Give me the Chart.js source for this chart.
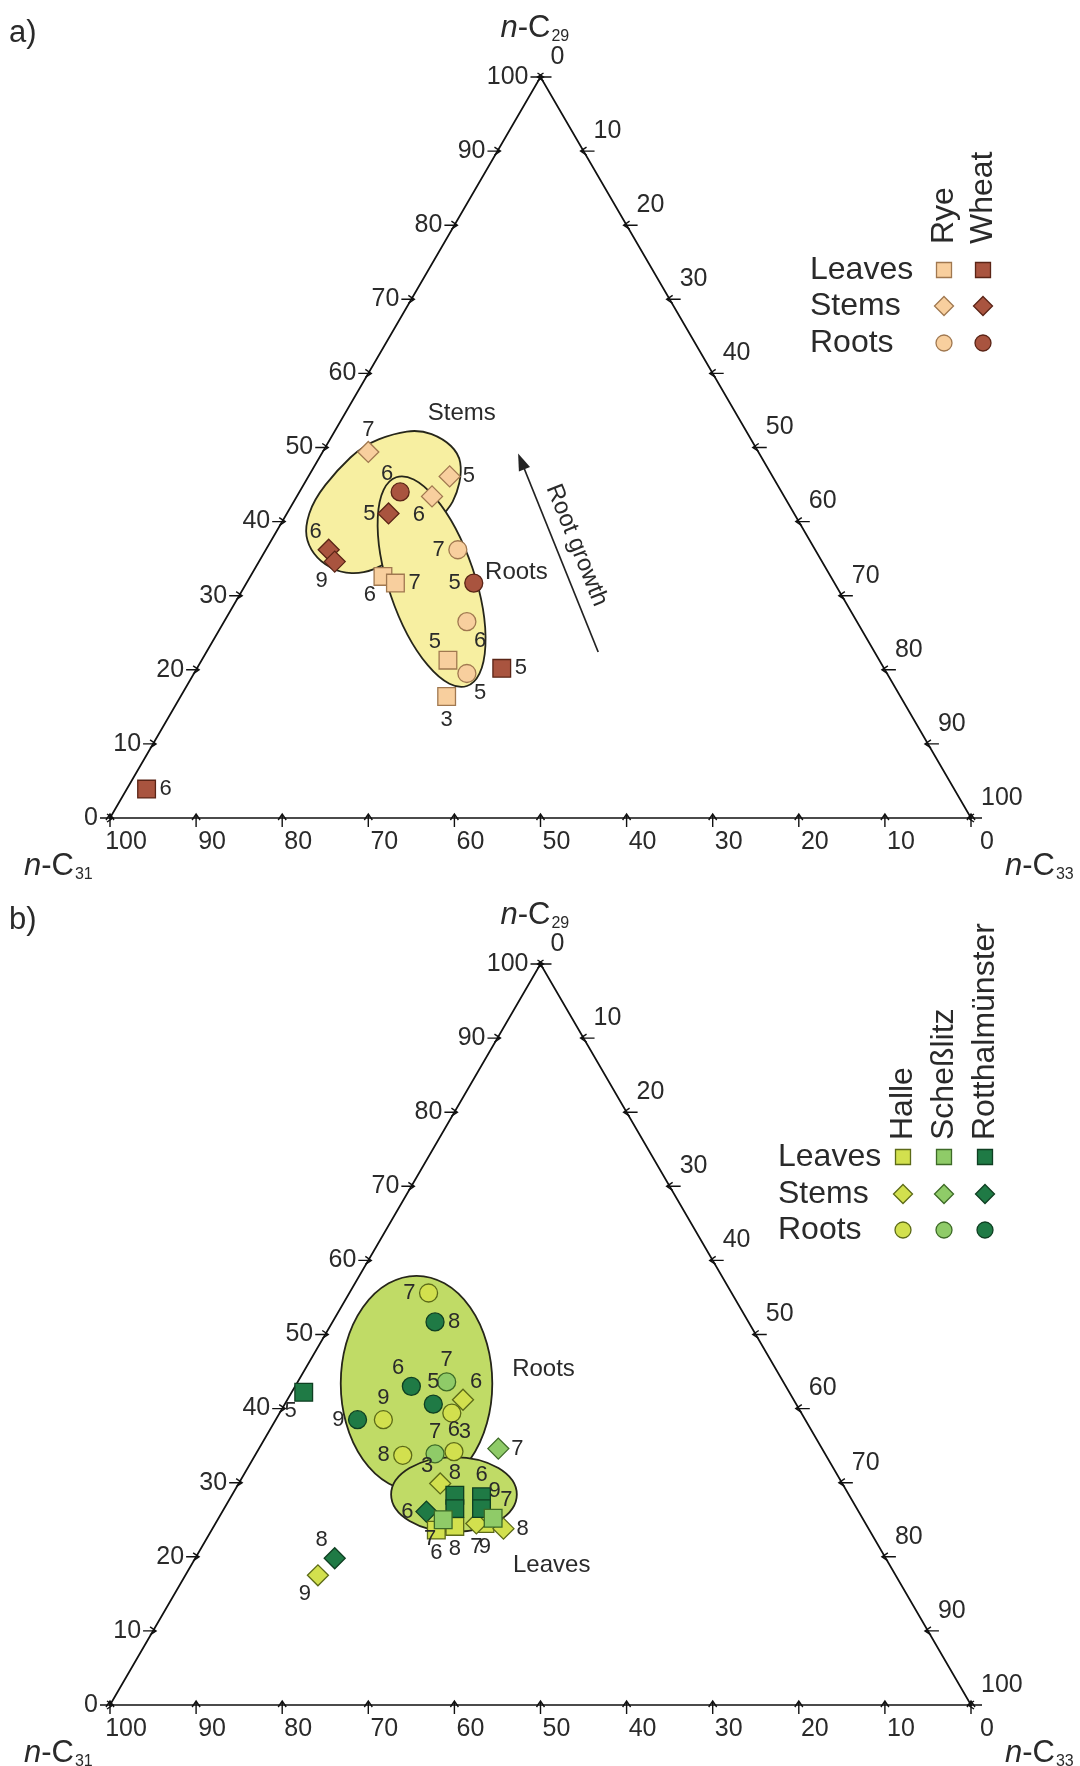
<!DOCTYPE html>
<html>
<head>
<meta charset="utf-8">
<script src="https://cdn.jsdelivr.net/npm/chart.js@4.4.0/dist/chart.umd.min.js"></script>
<style>
html, body { margin: 0; padding: 0; background: #fff; }
#wrap { position: relative; width: 1080px; height: 1766px; overflow: hidden; }
canvas { position: absolute; left: 0; }
#chartA { top: 0; }
#chartB { top: 866px; }
</style>
</head>
<body>
<div id="wrap">
<canvas id="chartA" width="1080" height="900"></canvas>
<canvas id="chartB" width="1080" height="900"></canvas>
</div>
<script>
// ternary values: n-C29 (%) and n-C33 (%), n-C31 is the rest
const tickValues = [0, 10, 20, 30, 40, 50, 60, 70, 80, 90, 100];

// a) rye / wheat
const ryeLeavesC29 = [32.6, 31.7, 21.3, 16.4];
const ryeLeavesC33 = [15.4, 17.3, 28.6, 30.9];
const ryeLeavesLab = ['6', '7', '5', '3'];
const ryeLeavesPos = ['bl', 'r', 'tl', 'b'];
const wheatLeavesC29 = [20.2, 3.9];
const wheatLeavesC33 = [35.4, 2.3];
const wheatLeavesLab = ['5', '6'];
const wheatLeavesPos = ['r', 'r'];
const ryeStemsC29 = [49.4, 46.1, 43.4];
const ryeStemsC33 = [5.3, 16.4, 15.7];
const ryeStemsLab = ['7', '5', '6'];
const ryeStemsPos = ['t', 'r', 'bl'];
const wheatStemsC29 = [41.1, 36.2, 34.6];
const wheatStemsC33 = [11.8, 7.3, 8.8];
const wheatStemsLab = ['5', '6', '9'];
const wheatStemsPos = ['l', 'tl', 'bl'];
const ryeRootsC29 = [36.2, 26.5, 19.5];
const ryeRootsC33 = [22.3, 28.2, 31.7];
const ryeRootsLab = ['7', '6', '5'];
const ryeRootsPos = ['l', 'br', 'br'];
const wheatRootsC29 = [44.0, 31.7];
const wheatRootsC33 = [11.7, 26.4];
const wheatRootsLab = ['6', '5'];
const wheatRootsPos = ['tl', 'l'];

// outline of the "Stems" group in a)
const stemsOutlineC29 = [39.3, 42.9, 47.0, 50.3, 51.9, 52.4, 51.2, 49.2, 46.7, 43.8, 41.6, 38.9, 35.7, 34.1, 33.0, 33.1, 34.6, 36.8];
const stemsOutlineC33 = [3.0, 2.2, 2.9, 4.3, 7.0, 9.8, 13.1, 15.9, 17.5, 18.4, 18.5, 17.4, 15.8, 14.7, 12.9, 10.2, 7.1, 4.6];
// "Roots" ellipse in a): centre C29, C33, half axes, tilt (deg)
const rootsEllipseA = [31.9, 21.4, 12.8, 5.0, 71.3];
const growthTailA = [22.4, 45.5];
const growthHeadA = [49.2, 22.8];

// b) sites
const halleLeavesC29 = [23.6, 24.1, 24.5];
const halleLeavesC33 = [26.1, 28.0, 31.3];
const halleLeavesLab = ['6', '8', '9'];
const halleLeavesPos = ['b', 'b', 'b'];
const schLeavesC29 = [25.0, 25.2];
const schLeavesC33 = [26.2, 31.9];
const schLeavesLab = ['7', '7'];
const schLeavesPos = ['bl', 'tr'];
const rotLeavesC29 = [42.2, 28.3, 26.5, 28.1, 26.5];
const rotLeavesC33 = [1.4, 25.9, 26.8, 29.1, 29.9];
const rotLeavesLab = ['5', '8', '', '6', '9'];
const rotLeavesPos = ['bl', 't', '', 't', 'tr'];
const halleStemsC29 = [41.2, 29.9, 23.8, 17.5, 24.5];
const halleStemsC33 = [20.4, 23.4, 33.8, 15.4, 30.3];
const halleStemsLab = ['6', '3', '8', '9', '7'];
const halleStemsPos = ['tr', 'tl', 'r', 'bl', 'b'];
const schStemsC29 = [34.6];
const schStemsC33 = [27.8];
const schStemsLab = ['7'];
const schStemsPos = ['r'];
const rotStemsC29 = [26.1, 19.8];
const rotStemsC33 = [23.7, 16.2];
const rotStemsLab = ['6', '8'];
const rotStemsPos = ['l', 'tl'];
const halleRootsC29 = [55.6, 38.5, 39.4, 34.2, 33.7];
const halleRootsC33 = [9.2, 12.5, 20.0, 22.85, 17.15];
const halleRootsLab = ['7', '9', '3', '6', '8'];
const halleRootsPos = ['l', 't', 'br', 't', 'l'];
const schRootsC29 = [43.6, 33.9];
const schRootsC33 = [17.3, 20.8];
const schRootsLab = ['7', '7'];
const schRootsPos = ['t', 't'];
const rotRootsC29 = [51.7, 43.0, 40.6, 38.5];
const rotRootsC33 = [11.9, 13.5, 17.25, 9.5];
const rotRootsLab = ['8', '6', '5', '9'];
const rotRootsPos = ['r', 'tl', 't', 'l'];
const rootsEllipseB = [43.4, 13.9, 8.8, 12.5, 0];
const leavesEllipseB = [28.4, 25.75, 7.3, 4.35, 0];

const SQ3 = Math.sqrt(3) / 2;
const FONT = '"Liberation Sans", Arial, sans-serif';
const TEXT = '#2a2a2a';
const RYE = ['#f8cf9e', '#a07850'];
const WHEAT = ['#a9543f', '#5a2416'];
const HALLE = ['#d2e04e', '#5c6a18'];
const SCH = ['#8fcb68', '#3d6a27'];
const ROT = ['#1f7a45', '#0f3f22'];

function tern(a, b) {
    return { x: b + a / 2, y: a * SQ3 };
}

function toPx(chart, a, b) {
    let t = tern(a, b);
    return { x: chart.scales.x.getPixelForValue(t.x), y: chart.scales.y.getPixelForValue(t.y) };
}

function unit(chart) {
    return (chart.scales.x.getPixelForValue(100) - chart.scales.x.getPixelForValue(0)) / 100;
}

function series(label, c29, c33, labs, pos, style, colors) {
    let r = style === 'rect' ? 12.5 : (style === 'rectRot' ? 10.5 : 9);
    return {
        label: label,
        data: c29.map((a, i) => tern(a, c33[i])),
        pointStyle: style,
        pointRadius: r,
        pointHoverRadius: r,
        backgroundColor: colors[0],
        borderColor: colors[1],
        borderWidth: 1.3,
        clip: false,
        labels: labs,
        labelPos: pos
    };
}

function drawAxes(chart, ctx) {
    let top = toPx(chart, 100, 0), left = toPx(chart, 0, 0), right = toPx(chart, 0, 100);
    ctx.strokeStyle = '#111';
    ctx.lineWidth = 1.7;
    ctx.beginPath();
    ctx.moveTo(top.x, top.y);
    ctx.lineTo(left.x, left.y);
    ctx.lineTo(right.x, right.y);
    ctx.closePath();
    ctx.stroke();

    ctx.lineWidth = 1.4;
    ctx.fillStyle = TEXT;
    ctx.font = '25px ' + FONT;
    tickValues.forEach(v => {
        // left side: n-C29
        let p = toPx(chart, v, 0);
        ctx.beginPath();
        ctx.moveTo(p.x - 10, p.y); ctx.lineTo(p.x + 3, p.y);
        ctx.moveTo(p.x - 3, p.y - 4); ctx.lineTo(p.x + 3, p.y); ctx.lineTo(p.x - 3, p.y + 4);
        ctx.stroke();
        ctx.textAlign = 'right'; ctx.textBaseline = 'middle';
        ctx.fillText(String(v), p.x - 12, p.y);
        // right side: n-C33
        p = toPx(chart, 100 - v, v);
        ctx.beginPath();
        ctx.moveTo(p.x + 11, p.y); ctx.lineTo(p.x - 3, p.y);
        ctx.moveTo(p.x + 3, p.y - 4); ctx.lineTo(p.x - 3, p.y); ctx.lineTo(p.x + 3, p.y + 4);
        ctx.stroke();
        ctx.textAlign = 'left';
        ctx.fillText(String(v), p.x + 10, p.y - 20);
        // bottom: n-C31
        p = toPx(chart, 0, 100 - v);
        ctx.beginPath();
        ctx.moveTo(p.x, p.y + 9); ctx.lineTo(p.x, p.y - 4);
        ctx.moveTo(p.x - 4, p.y + 2); ctx.lineTo(p.x, p.y - 4); ctx.lineTo(p.x + 4, p.y + 2);
        ctx.stroke();
        ctx.textAlign = 'center'; ctx.textBaseline = 'top';
        ctx.fillText(String(v), p.x + 16, p.y + 12);
    });
}

function drawTitle(ctx, x, y, num) {
    ctx.fillStyle = TEXT;
    ctx.textAlign = 'left';
    ctx.textBaseline = 'alphabetic';
    ctx.font = 'italic 31px ' + FONT;
    ctx.fillText('n', x, y);
    x += ctx.measureText('n').width;
    ctx.font = '31px ' + FONT;
    ctx.fillText('-C', x, y);
    x += ctx.measureText('-C').width + 1;
    ctx.font = '16px ' + FONT;
    ctx.fillText(num, x, y + 4);
}

function drawSymbol(ctx, style, x, y, fill, stroke) {
    ctx.beginPath();
    if (style === 'rect') {
        ctx.rect(x - 7.5, y - 7.5, 15, 15);
    } else if (style === 'rectRot') {
        ctx.moveTo(x, y - 9.5); ctx.lineTo(x + 9.5, y); ctx.lineTo(x, y + 9.5); ctx.lineTo(x - 9.5, y);
        ctx.closePath();
    } else {
        ctx.arc(x, y, 8, 0, 2 * Math.PI);
    }
    ctx.fillStyle = fill;
    ctx.fill();
    ctx.strokeStyle = stroke;
    ctx.lineWidth = 1.3;
    ctx.stroke();
}

function drawLegend(chart, ctx, lg) {
    let y0 = chart.chartArea.top;
    let rows = ['Leaves', 'Stems', 'Roots'];
    let styles = ['rect', 'rectRot', 'circle'];
    ctx.font = '32px ' + FONT;
    ctx.fillStyle = TEXT;
    ctx.textAlign = 'left';
    ctx.textBaseline = 'middle';
    rows.forEach((r, i) => ctx.fillText(r, lg.textX, y0 + lg.rows[i]));
    lg.cols.forEach((cx, j) => {
        ctx.save();
        ctx.translate(cx, y0 + lg.headBottom);
        ctx.rotate(-Math.PI / 2);
        ctx.fillStyle = TEXT;
        ctx.textAlign = 'left';
        ctx.textBaseline = 'middle';
        ctx.fillText(lg.heads[j], 0, 0);
        ctx.restore();
        styles.forEach((s, i) => drawSymbol(ctx, s, cx, y0 + lg.rows[i], lg.colors[j][0], lg.colors[j][1]));
    });
}

const labelOffsets = {
    r: [13, 0, 'left'], l: [-13, 0, 'right'], t: [0, -22, 'center'], b: [0, 23, 'center'],
    tl: [-7, -18, 'right'], tr: [7, -18, 'left'], bl: [-7, 19, 'right'], br: [7, 19, 'left']
};

function drawPointLabels(chart, ctx) {
    ctx.font = '22px ' + FONT;
    ctx.fillStyle = TEXT;
    ctx.textBaseline = 'middle';
    chart.data.datasets.forEach((ds, i) => {
        chart.getDatasetMeta(i).data.forEach((el, j) => {
            let txt = ds.labels[j];
            if (!txt) return;
            let o = labelOffsets[ds.labelPos[j]];
            ctx.textAlign = o[2];
            ctx.fillText(txt, el.x + o[0], el.y + o[1]);
        });
    });
}

function fillEllipse(chart, ctx, e, fill) {
    let c = toPx(chart, e[0], e[1]), u = unit(chart);
    ctx.beginPath();
    ctx.ellipse(c.x, c.y, e[2] * u, e[3] * u, e[4] * Math.PI / 180, 0, 2 * Math.PI);
    ctx.fillStyle = fill;
    ctx.fill();
    ctx.strokeStyle = '#26261a';
    ctx.lineWidth = 1.8;
    ctx.stroke();
}

function fillOutline(chart, ctx, c29, c33, fill) {
    let pts = c29.map((a, i) => toPx(chart, a, c33[i]));
    let n = pts.length;
    let mid = (p, q) => ({ x: (p.x + q.x) / 2, y: (p.y + q.y) / 2 });
    let m0 = mid(pts[n - 1], pts[0]);
    ctx.beginPath();
    ctx.moveTo(m0.x, m0.y);
    for (let i = 0; i < n; i++) {
        let m = mid(pts[i], pts[(i + 1) % n]);
        ctx.quadraticCurveTo(pts[i].x, pts[i].y, m.x, m.y);
    }
    ctx.closePath();
    ctx.fillStyle = fill;
    ctx.fill();
    ctx.strokeStyle = '#26261a';
    ctx.lineWidth = 1.8;
    ctx.stroke();
}

function note(chart, ctx, text, a, b) {
    let p = toPx(chart, a, b);
    ctx.font = '24px ' + FONT;
    ctx.fillStyle = TEXT;
    ctx.textAlign = 'center';
    ctx.textBaseline = 'middle';
    ctx.fillText(text, p.x, p.y);
}

function makePlugin(id, letter, legend, regions, notes) {
    return {
        id: id,
        beforeDatasetsDraw(chart) {
            let ctx = chart.ctx;
            ctx.save();
            regions(chart, ctx);
            drawAxes(chart, ctx);
            ctx.restore();
        },
        afterDatasetsDraw(chart) {
            let ctx = chart.ctx;
            let top = chart.chartArea.top;
            ctx.save();
            drawPointLabels(chart, ctx);
            notes(chart, ctx);
            drawLegend(chart, ctx, legend);
            let apex = toPx(chart, 100, 0);
            drawTitle(ctx, apex.x - 40, top - 40, '29');
            drawTitle(ctx, 24, top + 798, '31');
            drawTitle(ctx, 1005, top + 798, '33');
            ctx.font = '31px ' + FONT;
            ctx.fillStyle = TEXT;
            ctx.textAlign = 'left';
            ctx.textBaseline = 'alphabetic';
            ctx.fillText(letter, 9, top - 35);
            ctx.restore();
        }
    };
}

function makeChart(canvasId, padTop, padBottom, datasets, plugin) {
    return new Chart(document.getElementById(canvasId).getContext('2d'), {
        type: 'scatter',
        data: { datasets: datasets },
        options: {
            responsive: false,
            animation: false,
            devicePixelRatio: 1,
            events: [],
            layout: { padding: { left: 110, right: 109, top: padTop, bottom: padBottom } },
            scales: {
                x: { type: 'linear', min: 0, max: 100, display: false },
                y: { type: 'linear', min: 0, max: 100 * SQ3, display: false }
            },
            plugins: { legend: { display: false }, tooltip: { enabled: false } }
        },
        plugins: [plugin]
    });
}

// panel a
makeChart('chartA', 77, 82, [
    series('Rye leaves', ryeLeavesC29, ryeLeavesC33, ryeLeavesLab, ryeLeavesPos, 'rect', RYE),
    series('Wheat leaves', wheatLeavesC29, wheatLeavesC33, wheatLeavesLab, wheatLeavesPos, 'rect', WHEAT),
    series('Rye stems', ryeStemsC29, ryeStemsC33, ryeStemsLab, ryeStemsPos, 'rectRot', RYE),
    series('Wheat stems', wheatStemsC29, wheatStemsC33, wheatStemsLab, wheatStemsPos, 'rectRot', WHEAT),
    series('Rye roots', ryeRootsC29, ryeRootsC33, ryeRootsLab, ryeRootsPos, 'circle', RYE),
    series('Wheat roots', wheatRootsC29, wheatRootsC33, wheatRootsLab, wheatRootsPos, 'circle', WHEAT)
], makePlugin('ternaryA', 'a)',
    { textX: 810, rows: [193, 229, 266], cols: [944, 983], heads: ['Rye', 'Wheat'], headBottom: 167, colors: [RYE, WHEAT] },
    (chart, ctx) => {
        fillOutline(chart, ctx, stemsOutlineC29, stemsOutlineC33, '#f7efa1');
        fillEllipse(chart, ctx, rootsEllipseA, '#f7efa1');
    },
    (chart, ctx) => {
        note(chart, ctx, 'Stems', 54.6, 13.55);
        note(chart, ctx, 'Roots', 33.2, 30.6);
        let h = toPx(chart, growthHeadA[0], growthHeadA[1]);
        let t = toPx(chart, growthTailA[0], growthTailA[1]);
        let len = Math.hypot(t.x - h.x, t.y - h.y);
        let dx = (t.x - h.x) / len, dy = (t.y - h.y) / len;
        ctx.strokeStyle = '#222';
        ctx.lineWidth = 1.7;
        ctx.beginPath();
        ctx.moveTo(t.x, t.y);
        ctx.lineTo(h.x + dx * 10, h.y + dy * 10);
        ctx.stroke();
        ctx.fillStyle = '#222';
        ctx.beginPath();
        ctx.moveTo(h.x, h.y);
        ctx.lineTo(h.x + dx * 17 - dy * 6, h.y + dy * 17 + dx * 6);
        ctx.lineTo(h.x + dx * 17 + dy * 6, h.y + dy * 17 - dx * 6);
        ctx.closePath();
        ctx.fill();
        ctx.save();
        ctx.translate((h.x + t.x) / 2 + dy * 20, (h.y + t.y) / 2 - dx * 20);
        ctx.rotate(Math.atan2(dy, dx));
        ctx.font = '24px ' + FONT;
        ctx.fillStyle = TEXT;
        ctx.textAlign = 'center';
        ctx.textBaseline = 'middle';
        ctx.fillText('Root growth', 0, 0);
        ctx.restore();
    }));

// panel b
makeChart('chartB', 98, 61, [
    series('Scheßlitz leaves', schLeavesC29, schLeavesC33, schLeavesLab, schLeavesPos, 'rect', SCH),
    series('Rotthalmünster leaves', rotLeavesC29, rotLeavesC33, rotLeavesLab, rotLeavesPos, 'rect', ROT),
    series('Halle stems', halleStemsC29, halleStemsC33, halleStemsLab, halleStemsPos, 'rectRot', HALLE),
    series('Halle leaves', halleLeavesC29, halleLeavesC33, halleLeavesLab, halleLeavesPos, 'rect', HALLE),
    series('Scheßlitz stems', schStemsC29, schStemsC33, schStemsLab, schStemsPos, 'rectRot', SCH),
    series('Rotthalmünster stems', rotStemsC29, rotStemsC33, rotStemsLab, rotStemsPos, 'rectRot', ROT),
    series('Halle roots', halleRootsC29, halleRootsC33, halleRootsLab, halleRootsPos, 'circle', HALLE),
    series('Scheßlitz roots', schRootsC29, schRootsC33, schRootsLab, schRootsPos, 'circle', SCH),
    series('Rotthalmünster roots', rotRootsC29, rotRootsC33, rotRootsLab, rotRootsPos, 'circle', ROT)
], makePlugin('ternaryB', 'b)',
    { textX: 778, rows: [193, 230, 266], cols: [903, 944, 985], heads: ['Halle', 'Scheßlitz', 'Rotthalmünster'], headBottom: 176, colors: [HALLE, SCH, ROT] },
    (chart, ctx) => {
        fillEllipse(chart, ctx, rootsEllipseB, '#c0db66');
        fillEllipse(chart, ctx, leavesEllipseB, '#c0db66');
    },
    (chart, ctx) => {
        note(chart, ctx, 'Roots', 45.3, 27.7);
        note(chart, ctx, 'Leaves', 18.9, 41.85);
    }));
</script>
</body>
</html>
